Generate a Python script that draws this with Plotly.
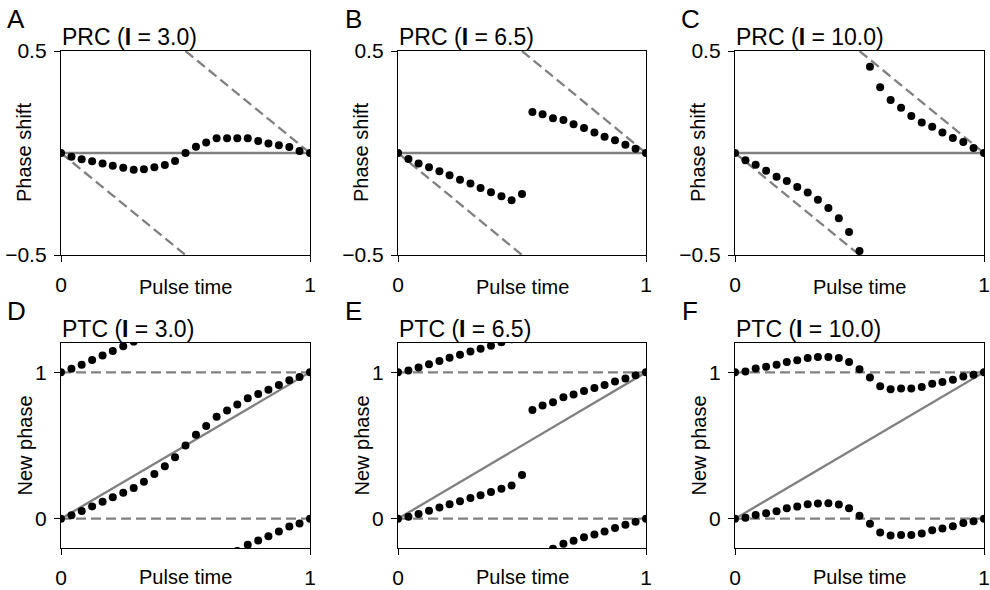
import plotly.graph_objects as go

W, H = 990, 590

# ---------------- data ----------------
PULSE_TIME = [0.000, 0.042, 0.083, 0.125, 0.167, 0.208, 0.250, 0.292, 0.333,
              0.375, 0.417, 0.458, 0.500, 0.542, 0.583, 0.625, 0.667, 0.708,
              0.750, 0.792, 0.833, 0.875, 0.917, 0.958, 1.000]

PRC_I3 = [0.000, -0.018, -0.031, -0.041, -0.052, -0.062, -0.072, -0.082, -0.080,
          -0.070, -0.059, -0.039, 0.000, 0.031, 0.051, 0.072, 0.072, 0.072,
          0.072, 0.059, 0.047, 0.038, 0.029, 0.010, 0.000]

PRC_I65 = [0.000, -0.029, -0.051, -0.070, -0.090, -0.109, -0.131, -0.150, -0.172,
           -0.193, -0.212, -0.232, -0.201, 0.201, 0.190, 0.170, 0.162, 0.141,
           0.123, 0.101, 0.080, 0.062, 0.041, 0.021, 0.000]

PRC_I10 = [0.000, -0.036, -0.057, -0.087, -0.116, -0.137, -0.167, -0.194, -0.229,
           -0.270, -0.320, -0.387, -0.480, 0.423, 0.322, 0.260, 0.222, 0.181,
           0.149, 0.129, 0.101, 0.074, 0.054, 0.025, 0.000]

CURRENT_LABELS = ["3.0", "6.5", "10.0"]
PRC_SERIES = [PRC_I3, PRC_I65, PRC_I10]
LETTERS_TOP = ["A", "B", "C"]
LETTERS_BOTTOM = ["D", "E", "F"]

X_TICKS = [0, 1]
PRC_Y_TICKS = [-0.5, 0.5]
PTC_Y_TICKS = [0, 1]
X_RANGE = [0, 1]
PRC_RANGE = [-0.5, 0.5]
PTC_RANGE = [-0.2, 1.2]

# reference lines
ZERO_X, ZERO_Y = [0, 1], [0, 0]
DELAY_BOUND_X, DELAY_BOUND_Y = [0, 0.5], [0, -0.5]
ADVANCE_BOUND_X, ADVANCE_BOUND_Y = [0.5, 1], [0.5, 0]
IDENTITY_X, IDENTITY_Y = [0, 1], [0, 1]
PTC_LEVELS = [0, 1]
PTC_WRAP_OFFSETS = [-1, 0, 1]

# ---------------- layout geometry (pixels) ----------------
COL_X = [(61, 310), (398, 646), (735, 984)]
ROW_Y = [(51, 255), (343, 548)]

GREY = "#808080"
FONT = "Liberation Sans, Arial, Helvetica, sans-serif"


def px(x):
    return x / W


def py(y):
    return 1 - y / H


fig = go.Figure()
annotations = []
layout_axes = {}


def add_axes(idx, col, row, yrange, yticks):
    xs = "" if idx == 1 else str(idx)
    x0, x1 = COL_X[col]
    y0, y1 = ROW_Y[row]
    common = dict(showline=True, linecolor="black", linewidth=1.3, mirror=True,
                  showgrid=False, zeroline=False, ticks="outside", ticklen=6,
                  tickwidth=1.3, tickcolor="black", automargin=False,
                  tickfont=dict(family=FONT, size=21, color="black"))
    layout_axes["xaxis" + xs] = dict(domain=[px(x0), px(x1)], range=X_RANGE,
                                     tickvals=X_TICKS, anchor="y" + xs,
                                     ticklabelstandoff=5, **common)
    layout_axes["yaxis" + xs] = dict(domain=[py(y1), py(y0)], range=yrange,
                                     tickvals=yticks, anchor="x" + xs,
                                     ticklabelstandoff=3, **common)
    return "x" + xs, "y" + xs


def line(xa, ya, xs, ys, dash=None):
    fig.add_trace(go.Scatter(x=xs, y=ys, mode="lines", xaxis=xa, yaxis=ya,
                             line=dict(color=GREY, width=2.3,
                                       dash=dash if dash else "solid"),
                             showlegend=False, hoverinfo="skip"))


def dots(xa, ya, xs, ys):
    fig.add_trace(go.Scatter(x=xs, y=ys, mode="markers", xaxis=xa, yaxis=ya,
                             marker=dict(color="black", size=8),
                             showlegend=False, cliponaxis=True))


DASH = "10px,5px"

for col in range(3):
    prc = PRC_SERIES[col]
    # ---- PRC panel ----
    xa, ya = add_axes(col + 1, col, 0, PRC_RANGE, PRC_Y_TICKS)
    line(xa, ya, ZERO_X, ZERO_Y)
    line(xa, ya, DELAY_BOUND_X, DELAY_BOUND_Y, DASH)
    line(xa, ya, ADVANCE_BOUND_X, ADVANCE_BOUND_Y, DASH)
    dots(xa, ya, PULSE_TIME, prc)

    # ---- PTC panel ----
    xa, ya = add_axes(col + 4, col, 1, PTC_RANGE, PTC_Y_TICKS)
    for lvl in PTC_LEVELS:
        line(xa, ya, ZERO_X, [lvl, lvl], DASH)
    line(xa, ya, IDENTITY_X, IDENTITY_Y)
    new_phase = [t + s for t, s in zip(PULSE_TIME, prc)]
    for off in PTC_WRAP_OFFSETS:
        dots(xa, ya, PULSE_TIME, [v + off for v in new_phase])

    # ---- text ----
    x0, x1 = COL_X[col]
    for row, (kind, ylab, letter) in enumerate(
            [("PRC", "Phase shift", LETTERS_TOP[col]),
             ("PTC", "New phase", LETTERS_BOTTOM[col])]):
        y0, y1 = ROW_Y[row]
        annotations.append(dict(
            x=px(x0 - 45), y=py(y0 - 32), xref="paper", yref="paper",
            text=letter, showarrow=False, xanchor="center", yanchor="middle",
            font=dict(family=FONT, size=26, color="black")))
        annotations.append(dict(
            x=px(x0 - 1), y=py(y0 - 14), xref="paper", yref="paper",
            text=f"{kind} (<b>I</b> = {CURRENT_LABELS[col]})", showarrow=False,
            xanchor="left", yanchor="middle",
            font=dict(family=FONT, size=23, color="black")))
        annotations.append(dict(
            x=px(x0 - 37), y=py((y0 + y1) / 2), xref="paper", yref="paper",
            text=ylab, showarrow=False, textangle=-90, xanchor="center",
            yanchor="middle", font=dict(family=FONT, size=20, color="black")))
        annotations.append(dict(
            x=px((x0 + x1) / 2), y=py(min(y1 + 45, H)), xref="paper",
            yref="paper", text="Pulse time", showarrow=False, xanchor="center",
            yanchor="bottom", font=dict(family=FONT, size=20, color="black")))

fig.update_layout(width=W, height=H, margin=dict(l=0, r=0, t=0, b=0),
                  paper_bgcolor="white", plot_bgcolor="white",
                  showlegend=False, annotations=annotations,
                  font=dict(family=FONT, color="black"), **layout_axes)

fig.write_html("out.html")
